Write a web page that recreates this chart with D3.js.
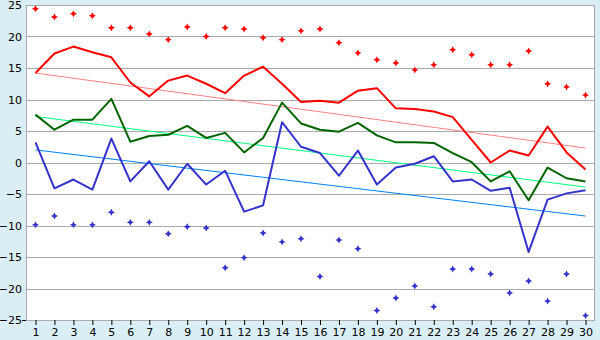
<!DOCTYPE html>
<html lang="en">
<head>
<meta charset="UTF-8">
<title>Daily temperature chart</title>
<script src="https://d3js.org/d3.v7.min.js"></script>
<style>
    body { margin: 0; background: #d9eff5; }
    svg { display: block; }
    text { font-family: 'DejaVu Sans', Verdana, sans-serif; font-size: 11px; fill: #000; }
</style>
</head>
<body>
<div id="chart"></div>
<script>
    // days of the month
    const days = d3.range(1, 31);
    const yTicks = [-25, -20, -15, -10, -5, 0, 5, 10, 15, 20, 25];

    // series values
    const maxLine = [14.2, 17.3, 18.4, 17.5, 16.7, 12.7, 10.5, 13.0, 13.8, 12.5,
        11.0, 13.8, 15.2, 12.5, 9.6, 9.8, 9.5, 11.4, 11.8, 8.6,
        8.5, 8.1, 7.2, 3.6, 0.0, 1.9, 1.1, 5.7, 1.6, -1.1];
    const meanLine = [7.6, 5.2, 6.8, 6.8, 10.1, 3.3, 4.2, 4.4, 5.8, 3.9,
        4.7, 1.6, 3.9, 9.5, 6.2, 5.2, 4.9, 6.3, 4.3, 3.2,
        3.2, 3.1, 1.5, 0.05, -3.0, -1.4, -6.0, -0.8, -2.5, -3.0];
    const minLine = [3.2, -4.1, -2.7, -4.3, 3.8, -3.0, 0.2, -4.3, -0.2, -3.5,
        -1.3, -7.8, -6.8, 6.4, 2.5, 1.5, -2.1, 1.9, -3.5, -0.8,
        -0.2, 1.0, -3.0, -2.7, -4.5, -4.0, -14.2, -5.9, -4.9, -4.4];
    const recordMax = [24.4, 23.1, 23.6, 23.3, 21.4, 21.4, 20.4, 19.5, 21.5, 20.0,
        21.4, 21.2, 19.8, 19.5, 20.9, 21.2, 19.0, 17.4, 16.3, 15.8,
        14.7, 15.5, 17.9, 17.1, 15.5, 15.5, 17.7, 12.5, 12.0, 10.7];
    const recordMin = [-9.9, -8.5, -9.9, -9.9, -7.9, -9.5, -9.5, -11.3, -10.2, -10.4,
        -16.7, -15.1, -11.2, -12.6, -12.1, -18.1, -12.3, -13.7, -23.5, -21.5,
        -19.6, -22.9, -16.9, -16.9, -17.7, -20.7, -18.8, -22.0, -17.7, -24.3];
    // trend lines: value at day 1 and day 30
    const trendMax = [14.2, 2.3];
    const trendMean = [7.3, -3.9];
    const trendMin = [2.0, -8.5];

    const width = 600, height = 340;
    const plotLeft = 26, plotRight = 595, plotTop = 5, plotBottom = 320;

    const svg = d3.select("#chart").append("svg")
        .attr("width", width)
        .attr("height", height);

    const x = d3.scalePoint()
        .domain(days)
        .range([plotLeft, plotRight])
        .padding(0.5);

    const y = d3.scaleLinear()
        .domain([-25, 25])
        .range([plotBottom, plotTop]);

    // plot background
    svg.append("rect")
        .attr("x", plotLeft).attr("y", plotTop)
        .attr("width", plotRight - plotLeft).attr("height", plotBottom - plotTop)
        .attr("fill", "#fff");

    // grid lines
    svg.append("g")
        .selectAll("line")
        .data(yTicks)
        .join("line")
        .attr("x1", plotLeft).attr("x2", plotRight)
        .attr("y1", d => Math.round(y(d)) + 0.5)
        .attr("y2", d => Math.round(y(d)) + 0.5)
        .attr("stroke", "#aaa");

    // border
    svg.append("rect")
        .attr("x", plotLeft + 0.5).attr("y", plotTop + 0.5)
        .attr("width", plotRight - plotLeft - 1).attr("height", plotBottom - plotTop)
        .attr("fill", "none")
        .attr("stroke", "#aaa");

    // small tick left of the axis at the bottom value
    svg.append("line")
        .attr("x1", plotLeft - 4).attr("x2", plotLeft)
        .attr("y1", Math.round(y(-25)) + 0.5).attr("y2", Math.round(y(-25)) + 0.5)
        .attr("stroke", "#000");

    // y axis labels
    const yAxis = d3.axisLeft(y).tickValues(yTicks).tickSize(0).tickPadding(4);
    svg.append("g")
        .attr("transform", `translate(${plotLeft},0)`)
        .call(yAxis)
        .call(g => g.select(".domain").remove())
        .selectAll("text")
        .style("font-size", "11px");

    // x axis
    const xAxis = d3.axisBottom(x).tickSize(5).tickPadding(3);
    svg.append("g")
        .attr("transform", `translate(0,${plotBottom})`)
        .call(xAxis)
        .call(g => g.select(".domain").remove())
        .call(g => g.selectAll("line").attr("stroke", "#000"))
        .selectAll("text")
        .style("font-size", "11px");

    const line = d3.line()
        .x((d, i) => x(days[i]))
        .y(d => y(d));

    function trend(vals, color) {
        svg.append("line")
            .attr("x1", x(days[0])).attr("y1", y(vals[0]))
            .attr("x2", x(days[days.length - 1])).attr("y2", y(vals[1]))
            .attr("stroke", color)
            .attr("stroke-width", 1);
    }

    trend(trendMax, "#ff8080");
    trend(trendMean, "#00ff80");
    trend(trendMin, "#0080ff");

    [[maxLine, "#ff0000"], [meanLine, "#006400"], [minLine, "#3333cc"]].forEach(([data, color]) => {
        svg.append("path")
            .datum(data)
            .attr("d", line)
            .attr("fill", "none")
            .attr("stroke", color)
            .attr("stroke-width", 2)
            .attr("stroke-linejoin", "round");
    });

    // small plus-like diamond marker
    const marker = "M0,-3.5L1.2,-1.2L3.5,0L1.2,1.2L0,3.5L-1.2,1.2L-3.5,0L-1.2,-1.2Z";

    [[recordMax, "#ff0000"], [recordMin, "#3333cc"]].forEach(([data, color]) => {
        svg.append("g")
            .selectAll("path")
            .data(data)
            .join("path")
            .attr("d", marker)
            .attr("transform", (d, i) => `translate(${x(days[i])},${y(d)})`)
            .attr("fill", color);
    });
</script>
</body>
</html>
